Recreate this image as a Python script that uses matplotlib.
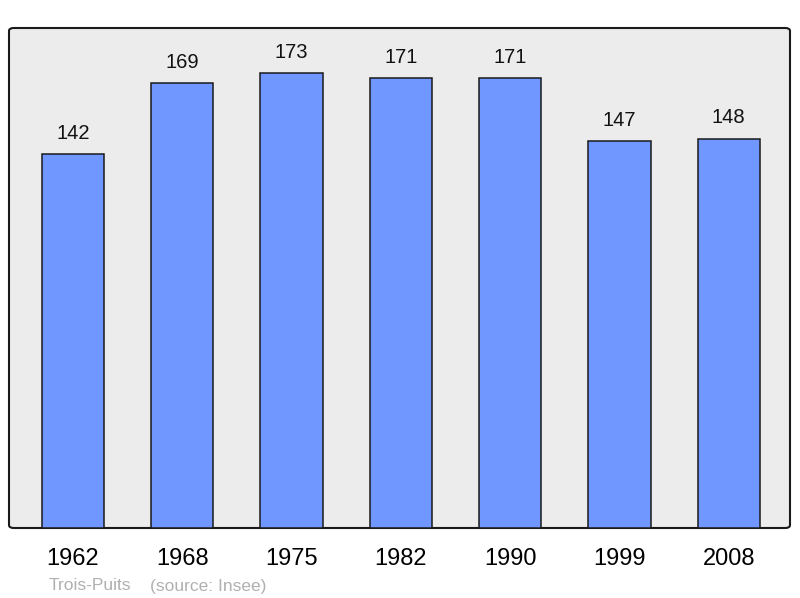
import matplotlib.pyplot as plt
from matplotlib.patches import FancyBboxPatch

years = ['1962', '1968', '1975', '1982', '1990', '1999', '2008']
population = [142, 169, 173, 171, 171, 147, 148]

plt.rcParams['font.family'] = ['Liberation Sans', 'DejaVu Sans']

fig = plt.figure(figsize=(8, 5.98), dpi=100)
ax = fig.add_axes([9 / 800, 70 / 598, 781 / 800, 500 / 598])
ax.set_facecolor('none')

# rounded frame behind the bars
frame = FancyBboxPatch((0, 0), 1, 1, boxstyle='round,pad=0,rounding_size=0.006',
                       transform=ax.transAxes, facecolor='#ececec',
                       edgecolor='#1a1a1a', linewidth=1.5, zorder=0, clip_on=False)
ax.add_patch(frame)
for s in ax.spines.values():
    s.set_visible(False)

x = range(len(years))
bars = ax.bar(x, population, width=0.57, color='#7096ff', edgecolor='#1a1a1a',
              linewidth=1.1, zorder=2)
for xi, v in zip(x, population):
    ax.annotate(str(v), (xi, v), xytext=(0, 8), textcoords='offset points',
                ha='center', va='bottom', fontsize=14.5, color='#111111')

ax.set_xlim(-0.585, 6.56)
ax.set_ylim(0, 190)
ax.set_yticks([])
ax.set_xticks(list(x))
ax.set_xticklabels(years, fontsize=17)
ax.tick_params(axis='x', length=0, pad=14.5)

fig.text(49 / 800, 1 - 586 / 598, 'Trois-Puits', color='#b0b0b0', fontsize=12.5, va='center')
fig.text(150 / 800, 1 - 586 / 598, '(source: Insee)', color='#b0b0b0', fontsize=12.5, va='center')

fig.savefig('out.png', dpi=100)
